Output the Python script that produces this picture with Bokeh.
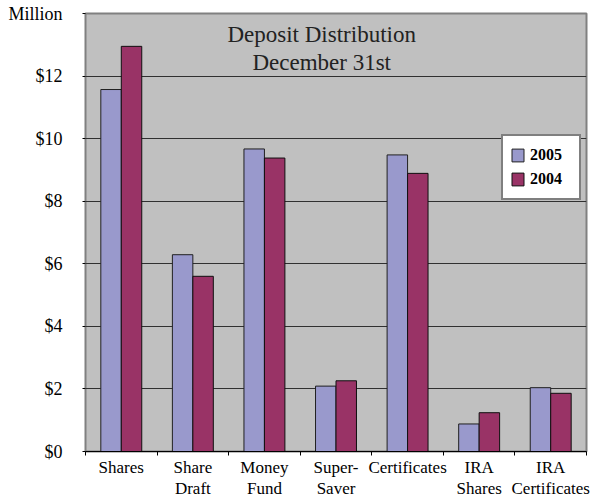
import numpy as np
from bokeh.plotting import figure
from bokeh.models import FixedTicker, Label, Legend, LegendItem, Range1d, ColumnDataSource
from bokeh.embed import file_html
from bokeh.resources import INLINE

categories = ["Shares", "Share\nDraft", "Money\nFund", "Super-\nSaver",
              "Certificates", "IRA\nShares", "IRA\nCertificates"]
values_2005 = [11.57, 6.29, 9.67, 2.09, 9.48, 0.88, 2.04]
values_2004 = [12.95, 5.60, 9.38, 2.26, 8.89, 1.24, 1.86]
y_ticks = [0, 2, 4, 6, 8, 10, 12, 14]
y_tick_labels = ["$0", "$2", "$4", "$6", "$8", "$10", "$12", "Million"]
grid_ticks = [0, 2, 4, 6, 8, 10, 12]
series_names = ["2005", "2004"]
title_lines = ["Deposit Distribution", "December 31st"]

FONT = "Liberation Serif"
C2005 = "#9999CC"
C2004 = "#993366"

n = len(categories)
idx = np.arange(n)
bw = 0.286

p = figure(width=599, height=501, output_backend="svg", toolbar_location=None,
           x_range=Range1d(0, n), y_range=Range1d(0, 14),
           min_border_left=85, min_border_right=13, min_border_top=13, min_border_bottom=49)
p.background_fill_color = "#C0C0C0"
p.border_fill_color = "white"
p.outline_line_color = "#808080"
p.outline_line_width = 2

src = ColumnDataSource(dict(x05=idx + 0.5 - bw / 2, x04=idx + 0.5 + bw / 2,
                            v05=values_2005, v04=values_2004))
r05 = p.vbar(x="x05", top="v05", width=bw, bottom=0, source=src,
             fill_color=C2005, line_color="#202020", line_width=1)
r04 = p.vbar(x="x04", top="v04", width=bw, bottom=0, source=src,
             fill_color=C2004, line_color="#101010", line_width=1)

# y axis
p.yaxis.ticker = FixedTicker(ticks=y_ticks)
p.yaxis.major_label_overrides = {t: l for t, l in zip(y_ticks, y_tick_labels)}
p.yaxis.axis_line_color = None
p.yaxis.major_tick_out = 3
p.yaxis.major_tick_in = 0
p.yaxis.major_tick_line_color = "black"
p.yaxis.minor_tick_line_color = None
p.yaxis.major_label_standoff = 20
p.yaxis.major_label_text_font = FONT
p.yaxis.major_label_text_font_size = "18px"
p.yaxis.major_label_text_color = "black"

# x axis
centers = list(idx + 0.5)
p.xaxis.ticker = FixedTicker(ticks=centers, minor_ticks=list(range(n + 1)))
p.xaxis.major_label_overrides = {float(c): lab for c, lab in zip(centers, categories)}
p.xaxis.major_tick_out = 0
p.xaxis.major_tick_in = 0
p.xaxis.minor_tick_out = 4
p.xaxis.minor_tick_in = 0
p.xaxis.minor_tick_line_color = "black"
p.xaxis.axis_line_color = "black"
p.xaxis.major_label_standoff = 2
p.xaxis.major_label_text_font = FONT
p.xaxis.major_label_text_font_size = "17px"
p.xaxis.major_label_text_color = "black"
p.xaxis.major_label_text_line_height = 1.15

p.xgrid.grid_line_color = None
p.ygrid.ticker = FixedTicker(ticks=grid_ticks)
p.ygrid.grid_line_color = "#303030"
p.ygrid.grid_line_width = 1

# title inside plot
p.add_layout(Label(x=3.3, y=13.33, text=title_lines[0], text_align="center",
                   text_baseline="middle", text_font=FONT,
                   text_font_size="23px", text_color="#222222"))
p.add_layout(Label(x=3.3, y=12.42, text=title_lines[1], text_align="center",
                   text_baseline="middle", text_font=FONT,
                   text_font_size="23px", text_color="#222222"))

legend = Legend(items=[LegendItem(label=series_names[0], renderers=[r05]),
                       LegendItem(label=series_names[1], renderers=[r04])],
                location=(416, 251), orientation="vertical")
legend.label_text_font = FONT
legend.label_text_font_size = "16px"
legend.label_text_font_style = "bold"
legend.label_text_color = "black"
legend.glyph_width = 15
legend.glyph_height = 16
legend.label_height = 24
legend.label_width = 42
legend.label_standoff = 5
legend.spacing = 0
legend.padding = 7
legend.margin = 0
legend.border_line_color = "black"
legend.border_line_width = 2
legend.background_fill_color = "white"
legend.background_fill_alpha = 1
p.add_layout(legend, "center")

open("out.html", "w").write(file_html(p, INLINE))
